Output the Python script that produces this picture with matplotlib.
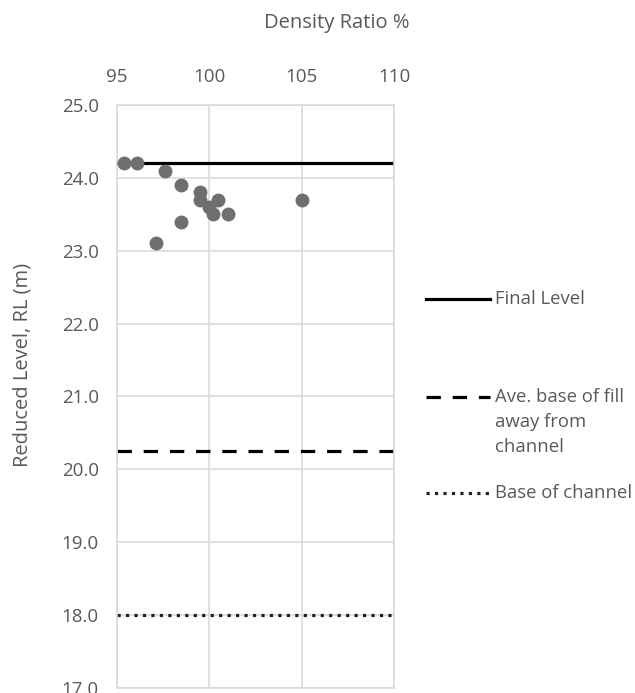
import matplotlib
matplotlib.use("Agg")
import matplotlib.pyplot as plt
from matplotlib.lines import Line2D

plt.rcParams['font.family'] = ['Open Sans', 'DejaVu Sans']

# Data
density_ratio = [95.4, 96.1, 97.6, 98.5, 99.5, 99.5, 100.5, 100.0, 100.2, 101.0, 98.5, 97.1, 105.0]
reduced_level = [24.2, 24.2, 24.1, 23.9, 23.8, 23.7, 23.7, 23.6, 23.5, 23.5, 23.4, 23.1, 23.7]

final_level = 24.2
ave_base_fill = 20.25
base_channel = 18.0

x_ticks = [95, 100, 105, 110]
y_ticks = [17.0, 18.0, 19.0, 20.0, 21.0, 22.0, 23.0, 24.0, 25.0]

legend_labels = ["Final Level", "Ave. base of fill\naway from\nchannel", "Base of channel"]

TEXT = '#595959'
GRID = '#d9d9d9'
DOT = '#6f6f6f'

W, H = 635, 693
fig = plt.figure(figsize=(W / 100, H / 100), dpi=100)
left, right, top, bottom = 116.7, 394.3, 105, 687.7
ax = fig.add_axes([left / W, 1 - bottom / H, (right - left) / W, (bottom - top) / H])

ax.set_xlim(95, 110)
ax.set_ylim(17, 25)
ax.set_xticks(x_ticks)
ax.set_yticks(y_ticks)
ax.set_yticklabels([f"{v:.1f}" for v in y_ticks])
ax.xaxis.tick_top()
ax.tick_params(axis='both', length=0, labelsize=13.5, colors=TEXT)
ax.tick_params(axis='x', pad=14)
ax.tick_params(axis='y', pad=13)
ax.grid(True, color=GRID, lw=1.1)
ax.set_axisbelow(True)
for s in ax.spines.values():
    s.set_color(GRID)
    s.set_linewidth(1.1)

ax.scatter(density_ratio, reduced_level, s=100, color=DOT, zorder=3, linewidths=0)
lw = 2.3
ax.axhline(final_level, color='black', lw=lw, zorder=2)
ax.axhline(ave_base_fill, color='black', lw=lw, dashes=(4.5, 3.7), zorder=2)
ax.axhline(base_channel, color='#222222', lw=lw, dashes=(1, 1.65), zorder=2)

ax.xaxis.set_label_position('top')
ax.set_xlabel("Density Ratio %", fontsize=14.5, color=TEXT)
ax.xaxis.set_label_coords((336.5 - left) / (right - left), 1 + (top - 23) / (bottom - top))
ax.xaxis.label.set_va('center')
ax.set_ylabel("Reduced Level, RL (m)", fontsize=14.5, color=TEXT)
ax.yaxis.set_label_coords((23 - left) / (right - left), 1 - (365 - top) / (bottom - top))
ax.yaxis.label.set_va('center')

# Legend (manual, Excel style)
styles = [dict(color='black', lw=lw),
          dict(color='black', lw=lw, dashes=(4.5, 3.7)),
          dict(color='#222222', lw=lw, dashes=(1, 1.65))]
ys = [299, 397.5, 492.5]
for lab, st, y in zip(legend_labels, styles, ys):
    fig.add_artist(Line2D([426 / W, 490 / W], [1 - y / H, 1 - y / H], transform=fig.transFigure, **st))
    fig.text(495 / W, 1 - (y - 9) / H, lab, fontsize=13.3, color=TEXT, ha='left', va='top',
             linespacing=1.5)

fig.savefig("out.png", dpi=100)
